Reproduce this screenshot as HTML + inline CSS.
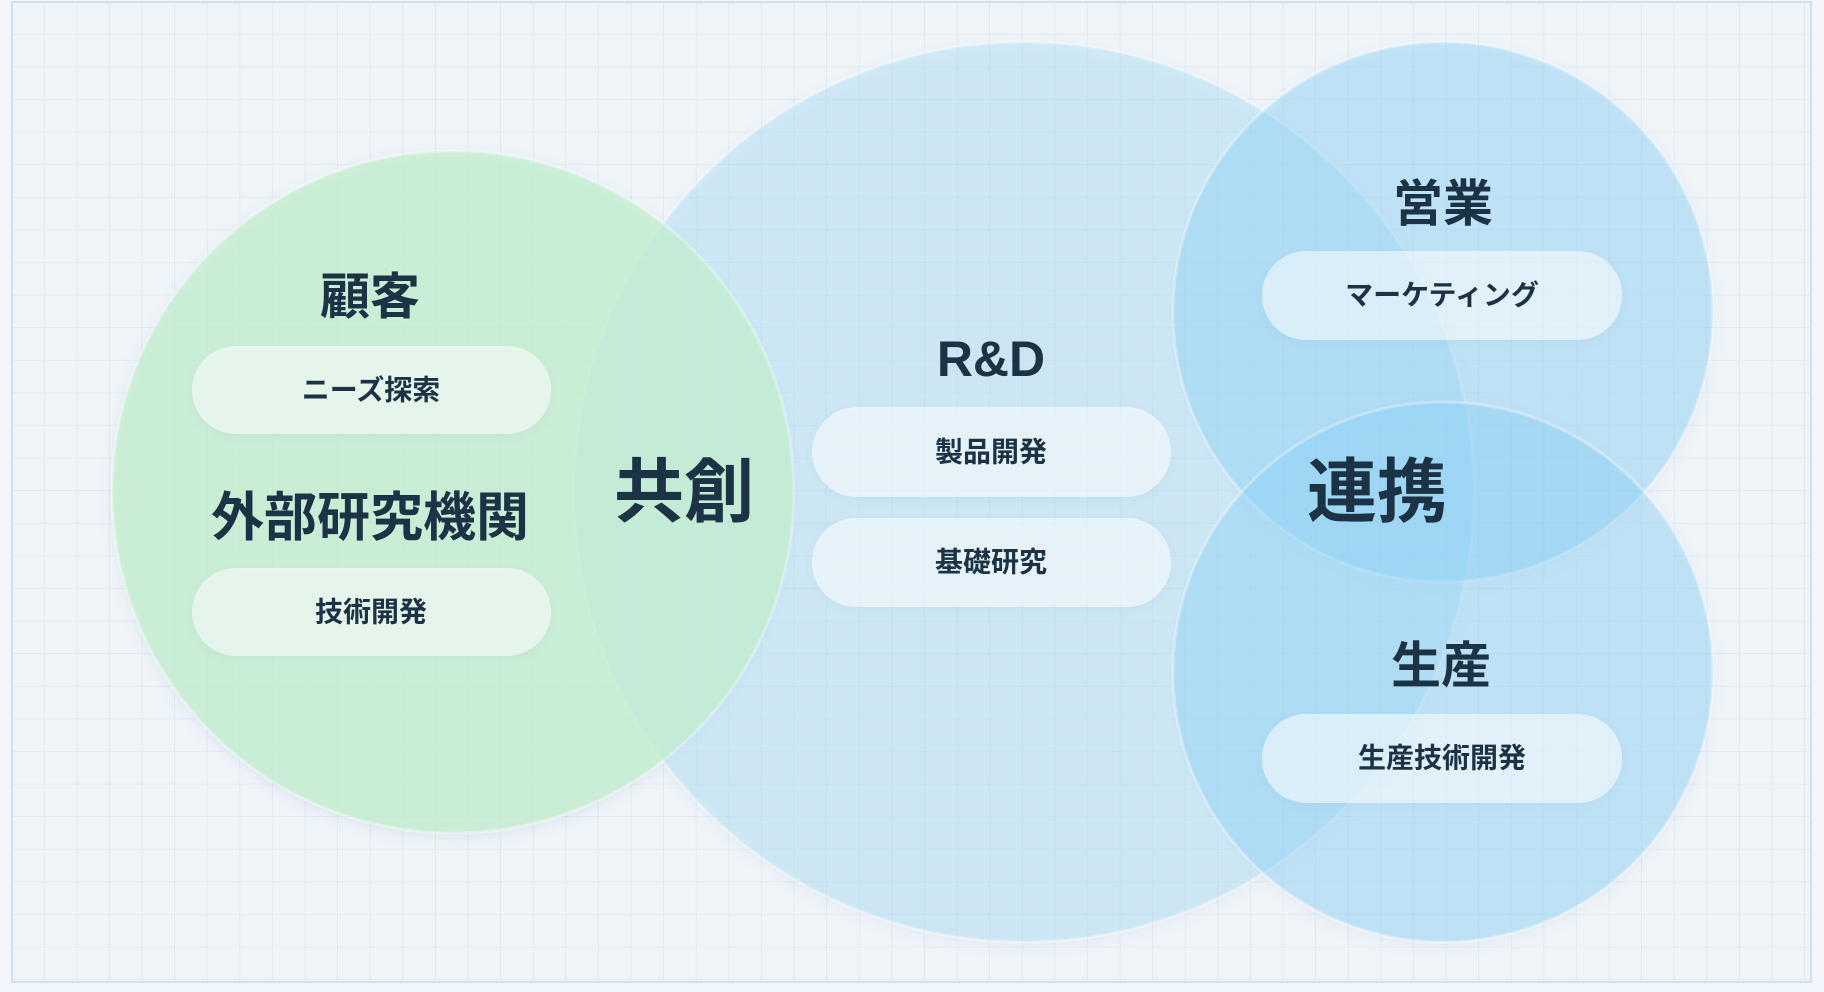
<!DOCTYPE html>
<html><head><meta charset="utf-8"><style>
html,body{margin:0;padding:0;width:1824px;height:992px;overflow:hidden;background:#f2f6fa}
svg{display:block}
text{font-family:"Liberation Sans","Noto Sans CJK JP",sans-serif;font-weight:700;fill:#1b3344;text-anchor:middle;dominant-baseline:central}
</style></head><body>
<svg width="1824" height="992" viewBox="0 0 1824 992" xmlns="http://www.w3.org/2000/svg">
<defs>
<pattern id="g" width="32.6" height="32.6" patternUnits="userSpaceOnUse" x="12" y="2">
<path d="M32.6 0V32.6M0 32.6H32.6" stroke="#d9e5ef" stroke-width="1.3" fill="none"/>
</pattern>
<filter id="sh" x="-20%" y="-20%" width="140%" height="140%"><feDropShadow dx="0" dy="4" stdDeviation="6" flood-color="#5a86a8" flood-opacity="0.18"/></filter>
<filter id="ps" x="-20%" y="-30%" width="140%" height="160%"><feDropShadow dx="0" dy="3" stdDeviation="4" flood-color="#5a86a8" flood-opacity="0.12"/></filter>
</defs>
<rect x="12" y="2" width="1799" height="980" fill="#eff4f9" stroke="#d3e0eb" stroke-width="2"/>
<rect x="12" y="2" width="1799" height="980" fill="url(#g)"/>
<g filter="url(#sh)">
<circle cx="1024" cy="492" r="450" fill="#a6dbf6" fill-opacity="0.4" stroke="#ffffff" stroke-opacity="0.3" stroke-width="3"/>
<circle cx="1443" cy="312" r="270" fill="#8bd0f5" fill-opacity="0.42" stroke="#ffffff" stroke-opacity="0.3" stroke-width="3"/>
<circle cx="1443" cy="672" r="270" fill="#8bd0f5" fill-opacity="0.42" stroke="#ffffff" stroke-opacity="0.3" stroke-width="3"/>
<circle cx="453" cy="492" r="341" fill="#c2efcc" fill-opacity="0.72" stroke="#ffffff" stroke-opacity="0.3" stroke-width="3"/>
</g>
<g filter="url(#ps)" fill="#ffffff" fill-opacity="0.55">
<rect x="192" y="346" width="359" height="88" rx="44"/>
<rect x="192" y="568" width="359" height="88" rx="44"/>
<rect x="812" y="407" width="359" height="90" rx="45"/>
<rect x="812" y="518" width="359" height="89" rx="44"/>
<rect x="1262" y="251" width="360" height="89" rx="44"/>
<rect x="1262" y="714" width="360" height="89" rx="44"/>
</g>
<text x="370" y="297" font-size="50">顧客</text>
<text x="371" y="390" font-size="28">ニーズ探索</text>
<text x="370" y="518" font-size="53">外部研究機関</text>
<text x="371" y="612" font-size="28">技術開発</text>
<text x="684" y="492" font-size="70">共創</text>
<text x="991" y="359" font-size="50">R&amp;D</text>
<text x="991" y="452" font-size="28">製品開発</text>
<text x="991" y="562" font-size="28">基礎研究</text>
<text x="1443" y="204" font-size="50">営業</text>
<text x="1442" y="295" font-size="28">マーケティング</text>
<text x="1377" y="492" font-size="70">連携</text>
<text x="1441" y="666" font-size="50">生産</text>
<text x="1442" y="758" font-size="28">生産技術開発</text>
</svg>
</body></html>
